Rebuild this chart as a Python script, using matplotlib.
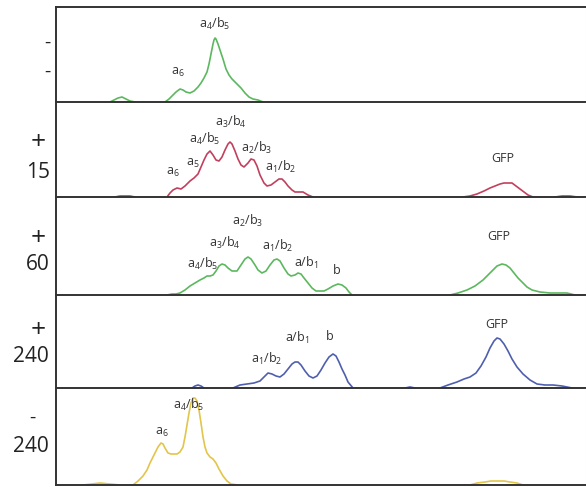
import matplotlib
matplotlib.use("Agg")
import matplotlib.pyplot as plt

plt.rcParams['font.family'] = ['Open Sans', 'DejaVu Sans']
plt.rcParams['mathtext.fontset'] = 'custom'
plt.rcParams['mathtext.rm'] = 'Open Sans'
plt.rcParams['mathtext.it'] = 'Open Sans'
plt.rcParams['mathtext.bf'] = 'Open Sans:bold'

# ---- data: migration position (x) and signal height (y) per trace ----
# panel 1: "- / -"
p1_small_x = [110, 114, 118, 122, 126, 130, 135]
p1_small_y = [0, 2, 4, 5, 3, 1, 0]
p1_main_x = [165, 169, 172, 176, 180, 183, 186, 190, 194, 198, 201, 204, 207, 209, 211, 213, 214, 215, 216, 218, 220, 223, 226, 229, 232, 235, 238, 241, 245, 249, 253, 258, 263]
p1_main_y = [0, 3, 6, 10, 13, 12, 10, 9, 11, 15, 19, 24, 30, 38, 48, 58, 62, 64, 63, 58, 52, 43, 33, 27, 23, 20, 17, 14, 9, 5, 3, 2, 0]

# panel 2: "+ / 15"
p2_main_x = [167, 170, 173, 177, 181, 185, 190, 194, 198, 201, 204, 207, 210, 213, 216, 219, 222, 225, 228, 230, 232, 235, 238, 241, 244, 248, 251, 254, 257, 260, 264, 267, 271, 275, 279, 282, 285, 288, 292, 295, 299, 303, 308, 313]
p2_main_y = [0, 4, 7, 9, 8, 11, 16, 19, 23, 30, 37, 43, 46, 42, 37, 36, 40, 47, 53, 55, 53, 46, 38, 32, 30, 34, 38, 37, 31, 22, 14, 11, 12, 15, 18, 18, 15, 11, 7, 5, 5, 5, 2, 0]
p2_gfp_x = [463, 470, 477, 484, 490, 495, 500, 504, 508, 512, 516, 520, 524, 528, 533]
p2_gfp_y = [0, 1, 3, 6, 9, 11, 13, 14, 14, 14, 11, 8, 5, 2, 0]
p2_noise_x = [115, 120, 125, 130, 135]
p2_noise_y = [0, 1, 1, 1, 0]
p2_noise2_x = [555, 562, 570, 577]
p2_noise2_y = [0, 1, 1, 0]

# panel 3: "+ / 60"
p3_main_x = [167, 172, 176, 180, 185, 190, 195, 200, 204, 207, 210, 213, 216, 219, 222, 225, 228, 232, 237, 241, 245, 248, 251, 255, 258, 262, 266, 270, 274, 277, 280, 284, 288, 291, 295, 298, 301, 304, 308, 312, 316, 320, 324, 328, 333, 338, 342, 346, 349, 352]
p3_main_y = [0, 1, 1, 2, 5, 9, 12, 15, 17, 19, 19, 20, 24, 29, 31, 30, 27, 24, 24, 30, 36, 38, 36, 30, 25, 22, 24, 30, 35, 36, 34, 27, 21, 19, 20, 22, 21, 17, 12, 7, 4, 4, 4, 6, 9, 11, 10, 7, 3, 0]
p3_gfp_x = [450, 458, 467, 475, 483, 488, 493, 497, 502, 506, 510, 514, 518, 523, 527, 532, 540, 550, 560, 567, 575]
p3_gfp_y = [0, 2, 5, 9, 15, 20, 25, 29, 31, 30, 27, 22, 17, 12, 8, 5, 3, 2, 2, 2, 0]

# panel 4: "+ / 240"
p4_small_x = [192, 195, 198, 201, 204]
p4_small_y = [0, 2, 3, 2, 0]
p4_main_x = [233, 240, 247, 254, 260, 264, 268, 272, 276, 280, 284, 288, 292, 295, 298, 301, 305, 309, 313, 317, 321, 325, 329, 333, 336, 339, 342, 345, 348, 353]
p4_main_y = [0, 3, 4, 5, 7, 11, 15, 14, 12, 11, 14, 19, 24, 26, 26, 23, 17, 12, 10, 12, 18, 25, 31, 34, 32, 26, 19, 13, 6, 0]
p4_gfp_x = [440, 448, 457, 464, 470, 476, 481, 486, 490, 494, 497, 500, 504, 508, 512, 517, 523, 530, 537, 545, 553, 562, 572]
p4_gfp_y = [0, 3, 6, 9, 11, 15, 22, 31, 40, 47, 50, 49, 44, 37, 29, 21, 14, 8, 4, 3, 3, 2, 0]
p4_noise_x = [405, 410, 415]
p4_noise_y = [0, 1, 0]

# panel 5: "- / 240"
p5_small_x = [83, 92, 100, 110, 120]
p5_small_y = [0, 1, 2, 1, 0]
p5_main_x = [133, 138, 143, 147, 150, 154, 158, 161, 163, 165, 168, 171, 174, 177, 180, 183, 185, 187, 189, 191, 193, 195, 197, 199, 201, 203, 205, 207, 210, 213, 216, 219, 223, 227, 231, 238]
p5_main_y = [0, 4, 9, 15, 22, 30, 38, 42, 41, 37, 32, 31, 31, 31, 33, 38, 48, 60, 72, 82, 87, 87, 84, 75, 62, 48, 38, 32, 28, 26, 22, 16, 9, 4, 1, 0]
p5_gfp_x = [470, 477, 485, 491, 497, 504, 510, 517, 523]
p5_gfp_y = [0, 2, 3, 4, 4, 4, 3, 2, 0]

# condition labels (two lines per panel)
cond_top = ['-', '+', '+', '+', '-']
cond_bottom = ['-', '15', '60', '240', '240']

# peak labels: (text, x, height above baseline)
p1_labels = [(r'$\mathregular{a_6}$', 178, 30), (r'$\mathregular{a_4/b_5}$', 215, 78)]
p2_labels = [(r'$\mathregular{a_6}$', 173, 25), (r'$\mathregular{a_5}$', 193, 34),
             (r'$\mathregular{a_4/b_5}$', 205, 58), (r'$\mathregular{a_3/b_4}$', 231, 75),
             (r'$\mathregular{a_2/b_3}$', 257, 49), (r'$\mathregular{a_1/b_2}$', 281, 30),
             ('GFP', 503, 38)]
p3_labels = [(r'$\mathregular{a_4/b_5}$', 203, 31), (r'$\mathregular{a_3/b_4}$', 225, 52),
             (r'$\mathregular{a_2/b_3}$', 248, 74), (r'$\mathregular{a_1/b_2}$', 278, 49),
             (r'$\mathregular{a/b_1}$', 306, 32), ('b', 337, 25), ('GFP', 499, 59)]
p4_labels = [(r'$\mathregular{a_1/b_2}$', 267, 29), (r'$\mathregular{a/b_1}$', 297, 50),
             ('b', 330, 52), ('GFP', 497, 64)]
p5_labels = [(r'$\mathregular{a_6}$', 162, 53), (r'$\mathregular{a_4/b_5}$', 189, 80)]

green = '#5cb85f'
red = '#c2405e'
blue = '#4f5fae'
yellow = '#e2c54a'

panels = [
    (green, [(p1_small_x, p1_small_y), (p1_main_x, p1_main_y)], p1_labels),
    (red, [(p2_noise_x, p2_noise_y), (p2_main_x, p2_main_y), (p2_gfp_x, p2_gfp_y),
           (p2_noise2_x, p2_noise2_y)], p2_labels),
    (green, [(p3_main_x, p3_main_y), (p3_gfp_x, p3_gfp_y)], p3_labels),
    (blue, [(p4_small_x, p4_small_y), (p4_main_x, p4_main_y), (p4_noise_x, p4_noise_y),
            (p4_gfp_x, p4_gfp_y)], p4_labels),
    (yellow, [(p5_small_x, p5_small_y), (p5_main_x, p5_main_y), (p5_gfp_x, p5_gfp_y)], p5_labels),
]

W, H = 586, 487
fig = plt.figure(figsize=(W / 100, H / 100), dpi=100)
bounds = [7, 102, 197, 295, 388, 485]
x0, x1 = 56, 586
ink = '#333333'

top_x = [47, 38, 38, 38, 32]
bot_x = [47, 38, 38, 31, 31]
top_y = [43, 142, 238, 331, 418]
bot_y = [72, 172, 265, 357, 447]

for i, (color, traces, labels) in enumerate(panels):
    top, bot = bounds[i], bounds[i + 1]
    ph = bot - top
    ax = fig.add_axes([x0 / W, 1 - bot / H, (x1 - x0) / W, ph / H])
    ax.set_xlim(x0, x1)
    ax.set_ylim(0, ph)
    for xs, ys in traces:
        ax.plot(xs, ys, color=color, lw=1.2, solid_joinstyle='round', zorder=2)
    for txt, lx, ly in labels:
        ax.text(lx, ly, txt, ha='center', va='center', fontsize=9, color=ink, zorder=3)
    ax.set_xticks([])
    ax.set_yticks([])
    ax.patch.set_alpha(0)
    for side in ['left', 'bottom', 'top']:
        ax.spines[side].set_color(ink)
        ax.spines[side].set_linewidth(1.4)
    ax.spines['right'].set_color('#e6e6e6')
    ax.spines['right'].set_linewidth(0.8)
    if i > 0:
        ax.spines['top'].set_visible(False)
    sym = cond_top[i]
    fig.text(top_x[i] / W, 1 - top_y[i] / H, sym, ha='center', va='center',
             fontsize=19 if sym == '+' else 14, color='#222222')
    fig.text(bot_x[i] / W, 1 - bot_y[i] / H, cond_bottom[i], ha='center', va='center',
             fontsize=15 if cond_bottom[i] != '-' else 14, color='#222222')

fig.savefig('out.png', dpi=100)
